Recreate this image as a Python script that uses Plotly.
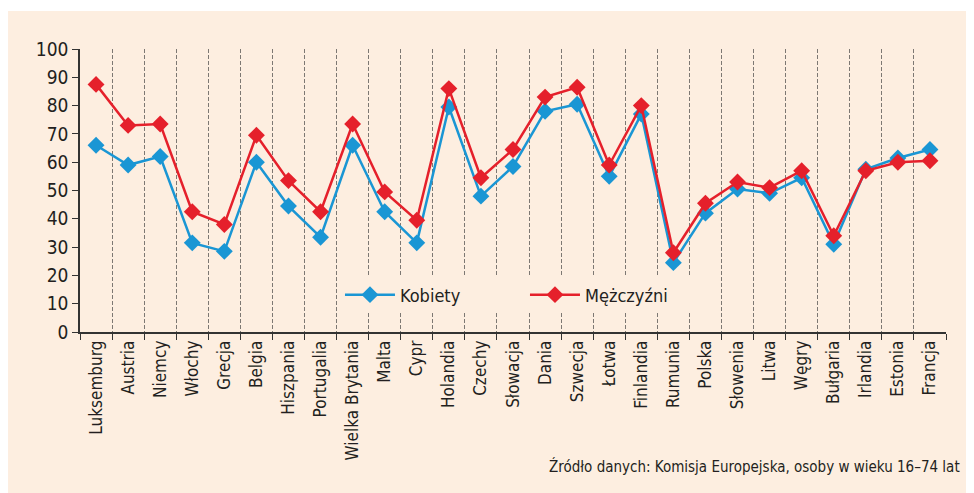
import plotly.graph_objects as go

countries = ["Luksemburg", "Austria", "Niemcy", "Włochy", "Grecja", "Belgia", "Hiszpania",
             "Portugalia", "Wielka Brytania", "Malta", "Cypr", "Holandia", "Czechy", "Słowacja",
             "Dania", "Szwecja", "Łotwa", "Finlandia", "Rumunia", "Polska", "Słowenia", "Litwa",
             "Węgry", "Bułgaria", "Irlandia", "Estonia", "Francja"]
kobiety = [66, 59, 62, 31.5, 28.5, 60, 44.5, 33.5, 66, 42.5, 31.5, 79.5, 48, 58.5,
           78, 80.5, 55, 77, 24.5, 42, 50.5, 49, 54.5, 31, 57.5, 61.5, 64.5]
mezczyzni = [87.5, 73, 73.5, 42.5, 38, 69.5, 53.5, 42.5, 73.5, 49.5, 39.5, 86, 54.5, 64.5,
             83, 86.5, 59, 80, 28, 45.5, 53, 51, 57, 34, 57, 60, 60.5]
y_ticks = [0, 10, 20, 30, 40, 50, 60, 70, 80, 90, 100]
source_text = "Źródło danych: Komisja Europejska, osoby w wieku 16–74 lat"

FONT = "Liberation Sans Narrow, DejaVu Sans Condensed, Arial Narrow, sans-serif"
PEACH = "#fdeee0"
BLUE = "#1a96d4"
RED = "#e5202b"

fig = go.Figure()
fig.add_trace(go.Scatter(x=countries, y=kobiety, name="Kobiety", mode="lines+markers",
                         line=dict(color=BLUE, width=2.5),
                         marker=dict(symbol="diamond", size=13, color=BLUE)))
fig.add_trace(go.Scatter(x=countries, y=mezczyzni, name="Mężczyźni", mode="lines+markers",
                         line=dict(color=RED, width=2.5),
                         marker=dict(symbol="diamond", size=13, color=RED)))

fig.add_shape(type="rect", xref="paper", yref="paper", x0=-0.0831, x1=1.1, y0=-0.7, y1=1.134,
              fillcolor=PEACH, line=dict(width=0), layer="below")

fig.add_annotation(text=source_text, xref="paper", yref="paper", x=1.0185, y=-0.477,
                   xanchor="right", yanchor="middle", showarrow=False,
                   font=dict(family=FONT, size=15, color="#231f20"))

fig.update_layout(
    width=966, height=485,
    margin=dict(l=72, r=28, t=41, b=161),
    paper_bgcolor="white", plot_bgcolor=PEACH,
    font=dict(family=FONT, color="#231f20"),
    showlegend=True,
    legend=dict(orientation="h", x=0.3002, y=0.131, xanchor="left", yanchor="middle",
                bgcolor=PEACH, borderwidth=0, font=dict(family=FONT, size=18),
                itemwidth=50, entrywidth=120, entrywidthmode="pixels"),
    xaxis=dict(type="category", categoryorder="array", categoryarray=countries,
               range=[-0.5, len(countries) - 0.5], tickson="boundaries",
               ticks="outside", ticklen=6, tickcolor="#333", tickwidth=1,
               showline=True, linecolor="#333", linewidth=1.5,
               showgrid=True, gridcolor="#7d7873", griddash="4px,2px", gridwidth=1,
               tickangle=-90, tickfont=dict(family=FONT, size=17), zeroline=False),
    yaxis=dict(range=[0, 100], tickvals=y_ticks, ticks="outside", ticklen=6,
               tickcolor="#333", showline=True, linecolor="#333", linewidth=1.5,
               showgrid=False, zeroline=False, tickfont=dict(family=FONT, size=19)),
)

fig.write_html("out.html")
